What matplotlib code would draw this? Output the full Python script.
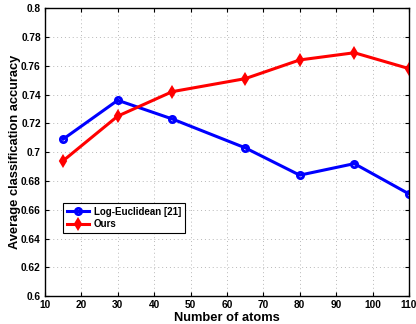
import matplotlib.pyplot as plt

atoms = [15, 30, 45, 65, 80, 95, 110]
log_euclidean = [0.709, 0.736, 0.723, 0.703, 0.684, 0.692, 0.671]
ours = [0.694, 0.725, 0.742, 0.751, 0.764, 0.769, 0.758]

plt.rcParams['font.family'] = ['Liberation Sans', 'DejaVu Sans']
plt.rcParams['font.weight'] = 'bold'

fig = plt.figure(figsize=(4.16, 3.24), dpi=100)
ax = fig.add_axes([0.108, 0.086, 0.875, 0.889])

ax.plot(atoms, log_euclidean, color='#0000ff', linewidth=2.2, marker='o',
        markersize=4.5, markerfacecolor='none', markeredgewidth=2,
        label='Log-Euclidean [21]')
ax.plot(atoms, ours, color='#ff0000', linewidth=2.2, marker='d',
        markersize=5.5, markeredgewidth=1.5, label='Ours')

ax.set_xlim(10, 110)
ax.set_ylim(0.6, 0.8)
ax.set_xticks(range(10, 111, 10))
ax.set_yticks([0.6 + 0.02 * i for i in range(11)])
ax.set_yticklabels(['0.6', '0.62', '0.64', '0.66', '0.68', '0.7', '0.72',
                    '0.74', '0.76', '0.78', '0.8'])

# sparse light dotted grid like the MATLAB figure
ax.grid(True, linestyle=(0, (1, 3)), linewidth=0.7, color='#b8b8b8')
ax.tick_params(direction='in', top=True, right=True, labelsize=7.3,
               length=3, width=0.8, pad=3)
for s in ax.spines.values():
    s.set_linewidth(1)

ax.set_xlabel('Number of atoms', fontsize=9.3, fontweight='bold', labelpad=1)
ax.set_ylabel('Average classification accuracy', fontsize=9.3,
              fontweight='bold', labelpad=0)

leg = ax.legend(loc='lower left', bbox_to_anchor=(0.049, 0.219),
                fontsize=7, fancybox=False, framealpha=1,
                edgecolor='black', borderpad=0.4, labelspacing=0.25,
                handlelength=2.3, handletextpad=0.5, borderaxespad=0)
leg.get_frame().set_linewidth(0.8)

fig.savefig('out.png', dpi=100)
